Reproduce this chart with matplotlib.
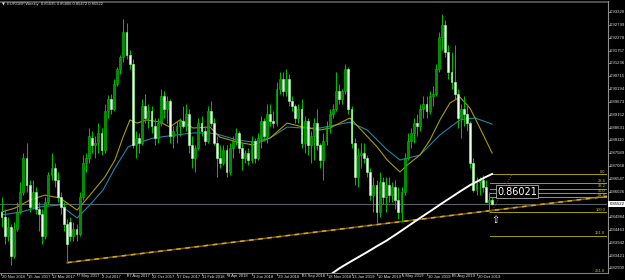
import numpy as np
import matplotlib
matplotlib.use("Agg")
import matplotlib.pyplot as plt
from matplotlib.lines import Line2D

# EURGBP weekly candles, one row per week starting 20 Nov 2016
opens = [0.8520, 0.8500, 0.8420, 0.8460, 0.8340, 0.8450, 0.8520, 0.8600, 0.8740, 0.8630,
         0.8540, 0.8600, 0.8530, 0.8510, 0.8420, 0.8560, 0.8670, 0.8700, 0.8650, 0.8580,
         0.8540, 0.8470, 0.8480, 0.8420, 0.8450, 0.8430, 0.8580, 0.8720, 0.8740, 0.8820,
         0.8790, 0.8800, 0.8840, 0.8770, 0.8930, 0.8980, 0.8940, 0.9040, 0.9100, 0.9150,
         0.9250, 0.9160, 0.9120, 0.8790, 0.8820, 0.8800, 0.8950, 0.8900, 0.8930, 0.8870,
         0.8820, 0.8880, 0.8990, 0.8940, 0.8970, 0.8830, 0.8850, 0.8870, 0.8890, 0.8870,
         0.8920, 0.8790, 0.8740, 0.8780, 0.8880, 0.8850, 0.8810, 0.8930, 0.8880, 0.8800,
         0.8740, 0.8720, 0.8770, 0.8680, 0.8780, 0.8810, 0.8840, 0.8780, 0.8740, 0.8760,
         0.8730, 0.8810, 0.8740, 0.8820, 0.8890, 0.8830, 0.8920, 0.8890, 0.8880, 0.9020,
         0.9060, 0.9010, 0.9060, 0.8970, 0.8950, 0.8900, 0.8940, 0.8800, 0.8890, 0.8790,
         0.8830, 0.8880, 0.8790, 0.8730, 0.8810, 0.8870, 0.8920, 0.8940, 0.9010, 0.8980,
         0.9010, 0.9100, 0.8940, 0.8800, 0.8660, 0.8750, 0.8760, 0.8740, 0.8680, 0.8590,
         0.8630, 0.8520, 0.8640, 0.8580, 0.8630, 0.8590, 0.8620, 0.8570, 0.8520, 0.8600,
         0.8740, 0.8810, 0.8840, 0.8880, 0.8870, 0.8940, 0.8960, 0.8930, 0.8990, 0.9000,
         0.9100, 0.9230, 0.9280, 0.9170, 0.9090, 0.9050, 0.9000, 0.8900, 0.8940, 0.8920,
         0.8880, 0.8720, 0.8610, 0.8640, 0.8650, 0.8620, 0.8560, 0.85695]
highs = [0.8580, 0.8530, 0.8500, 0.8470, 0.8480, 0.8560, 0.8640, 0.8760, 0.8800, 0.8650,
         0.8650, 0.8620, 0.8560, 0.8530, 0.8580, 0.8680, 0.8760, 0.8720, 0.8680, 0.8600,
         0.8560, 0.8490, 0.8500, 0.8480, 0.8470, 0.8600, 0.8750, 0.8760, 0.8860, 0.8850,
         0.8830, 0.8880, 0.8860, 0.8960, 0.8995, 0.9000, 0.9060, 0.9110, 0.9160, 0.9306,
         0.9290, 0.9180, 0.9140, 0.8850, 0.8840, 0.8980, 0.9000, 0.8960, 0.8950, 0.8900,
         0.8900, 0.9020, 0.9010, 0.8990, 0.8980, 0.8870, 0.8890, 0.8900, 0.8950, 0.8960,
         0.8940, 0.8830, 0.8790, 0.8900, 0.8910, 0.8870, 0.8950, 0.8970, 0.8900, 0.8830,
         0.8790, 0.8790, 0.8790, 0.8800, 0.8830, 0.8860, 0.8850, 0.8800, 0.8770, 0.8780,
         0.8830, 0.8820, 0.8840, 0.8910, 0.8900, 0.8960, 0.8960, 0.8930, 0.9050, 0.9090,
         0.9090, 0.9100, 0.9080, 0.8990, 0.8960, 0.8960, 0.8980, 0.8910, 0.8900, 0.8850,
         0.8900, 0.8940, 0.8800, 0.8840, 0.8890, 0.8940, 0.8960, 0.9090, 0.9040, 0.9020,
         0.9120, 0.9110, 0.8950, 0.8820, 0.8780, 0.8800, 0.8800, 0.8750, 0.8700, 0.8660,
         0.8650, 0.8680, 0.8660, 0.8660, 0.8660, 0.8640, 0.8650, 0.8620, 0.8620, 0.8760,
         0.8840, 0.8860, 0.8900, 0.8920, 0.8960, 0.8990, 0.8990, 0.9010, 0.9030, 0.9120,
         0.9250, 0.9325, 0.9300, 0.9200, 0.9170, 0.9200, 0.9020, 0.8960, 0.8990, 0.8960,
         0.8890, 0.8740, 0.8660, 0.8660, 0.8670, 0.8650, 0.8600, 0.85806]
lows = [0.8460, 0.8390, 0.8400, 0.8305, 0.8330, 0.8440, 0.8510, 0.8590, 0.8600, 0.8520,
        0.8530, 0.8510, 0.8440, 0.8390, 0.8410, 0.8550, 0.8650, 0.8620, 0.8560, 0.8510,
        0.8440, 0.8313, 0.8400, 0.8400, 0.8400, 0.8420, 0.8570, 0.8680, 0.8720, 0.8760,
        0.8740, 0.8760, 0.8750, 0.8760, 0.8900, 0.8920, 0.8930, 0.9030, 0.9080, 0.9130,
        0.9140, 0.9100, 0.8780, 0.8740, 0.8760, 0.8790, 0.8880, 0.8860, 0.8840, 0.8790,
        0.8800, 0.8870, 0.8900, 0.8880, 0.8800, 0.8780, 0.8800, 0.8830, 0.8860, 0.8850,
        0.8760, 0.8700, 0.8680, 0.8770, 0.8830, 0.8790, 0.8800, 0.8870, 0.8790, 0.8660,
        0.8700, 0.8710, 0.8660, 0.8670, 0.8740, 0.8790, 0.8760, 0.8690, 0.8720, 0.8710,
        0.8720, 0.8720, 0.8730, 0.8780, 0.8810, 0.8800, 0.8870, 0.8860, 0.8870, 0.9000,
        0.8990, 0.8990, 0.8950, 0.8930, 0.8880, 0.8880, 0.8780, 0.8760, 0.8750, 0.8720,
        0.8730, 0.8770, 0.8700, 0.8650, 0.8790, 0.8840, 0.8900, 0.8930, 0.8960, 0.8960,
        0.9000, 0.8920, 0.8780, 0.8630, 0.8620, 0.8700, 0.8720, 0.8660, 0.8570, 0.8520,
        0.8474, 0.8500, 0.8550, 0.8520, 0.8560, 0.8560, 0.8530, 0.8490, 0.8480, 0.8590,
        0.8730, 0.8780, 0.8800, 0.8830, 0.8850, 0.8900, 0.8900, 0.8920, 0.8950, 0.8990,
        0.9090, 0.9180, 0.9150, 0.9060, 0.9020, 0.8980, 0.8860, 0.8820, 0.8870, 0.8850,
        0.8700, 0.8600, 0.8590, 0.8590, 0.8600, 0.8560, 0.8519, 0.85472]
closes = [0.8500, 0.8420, 0.8460, 0.8340, 0.8450, 0.8520, 0.8600, 0.8740, 0.8630, 0.8540,
          0.8600, 0.8530, 0.8510, 0.8420, 0.8560, 0.8670, 0.8700, 0.8650, 0.8580, 0.8540,
          0.8470, 0.8390, 0.8420, 0.8450, 0.8430, 0.8580, 0.8720, 0.8740, 0.8830, 0.8790,
          0.8800, 0.8840, 0.8770, 0.8930, 0.8980, 0.8940, 0.9040, 0.9100, 0.9150, 0.9250,
          0.9160, 0.9120, 0.8790, 0.8820, 0.8800, 0.8950, 0.8900, 0.8930, 0.8870, 0.8820,
          0.8880, 0.8990, 0.8940, 0.8970, 0.8830, 0.8850, 0.8870, 0.8890, 0.8870, 0.8920,
          0.8790, 0.8740, 0.8780, 0.8880, 0.8850, 0.8810, 0.8930, 0.8880, 0.8800, 0.8740,
          0.8720, 0.8770, 0.8680, 0.8780, 0.8810, 0.8840, 0.8780, 0.8740, 0.8760, 0.8730,
          0.8810, 0.8740, 0.8820, 0.8890, 0.8830, 0.8920, 0.8890, 0.8880, 0.9020, 0.9060,
          0.9010, 0.9060, 0.8970, 0.8950, 0.8900, 0.8940, 0.8800, 0.8890, 0.8790, 0.8830,
          0.8880, 0.8790, 0.8730, 0.8810, 0.8870, 0.8920, 0.8940, 0.9010, 0.8980, 0.9010,
          0.9100, 0.8940, 0.8800, 0.8660, 0.8750, 0.8760, 0.8740, 0.8680, 0.8590, 0.8630,
          0.8520, 0.8640, 0.8580, 0.8630, 0.8590, 0.8620, 0.8570, 0.8520, 0.8600, 0.8740,
          0.8810, 0.8840, 0.8880, 0.8870, 0.8940, 0.8960, 0.8930, 0.8990, 0.9000, 0.9100,
          0.9230, 0.9280, 0.9170, 0.9090, 0.9050, 0.9000, 0.8900, 0.8940, 0.8920, 0.8880,
          0.8720, 0.8610, 0.8640, 0.8650, 0.8620, 0.8560, 0.85695, 0.85522]

date_labels = ["20 Nov 2016", "15 Jan 2017", "12 Mar 2017", "7 May 2017", "2 Jul 2017",
               "27 Aug 2017", "22 Oct 2017", "17 Dec 2017", "11 Feb 2018", "8 Apr 2018",
               "3 Jun 2018", "29 Jul 2018", "23 Sep 2018", "18 Nov 2018", "13 Jan 2019",
               "10 Mar 2019", "5 May 2019", "30 Jun 2019", "25 Aug 2019", "20 Oct 2019"]

# moving averages (bar index, price)
ma_fast_idx = [0, 4.3, 9.1, 13.9, 18.7, 24.2, 28.3, 33.1, 36.3, 38.9, 41.1, 43.4, 46.6, 50.7,
               53.9, 57.1, 61.3, 66.7, 69.9, 75.4, 80.5, 85.9, 91.4, 96.5, 101.9, 105.1,
               111.5, 115.7, 120.2, 123.4, 127.5, 129.8, 133.9, 137.1, 140.3, 143.5, 146.7,
               149.9, 153.1, 157]
ma_fast_val = [0.8519, 0.8535, 0.8568, 0.8588, 0.8576, 0.8527, 0.8588, 0.8662, 0.8731, 0.8824,
               0.8894, 0.8881, 0.8894, 0.8885, 0.8865, 0.8894, 0.8861, 0.8865, 0.8824, 0.8804,
               0.8792, 0.8820, 0.8881, 0.8865, 0.8853, 0.8861, 0.8902, 0.8845, 0.8784, 0.8731,
               0.8682, 0.8710, 0.8751, 0.8812, 0.8894, 0.8963, 0.8987, 0.8942, 0.8861, 0.8759]
ma_slow_idx = [0, 6, 12.3, 18.7, 24.2, 28.3, 32.5, 36.3, 40.5, 43.4, 48.5, 50.7, 56.2, 61.3,
               66.7, 69.9, 75.4, 80.5, 85.9, 91.4, 96.5, 101.9, 111.5, 117, 123.4, 127.5,
               133.9, 140.3, 146.7, 151.5, 157]
ma_slow_val = [0.8507, 0.8519, 0.8540, 0.8548, 0.8495, 0.8548, 0.8609, 0.8698, 0.8784, 0.8800,
               0.8820, 0.8824, 0.8833, 0.8841, 0.8841, 0.8833, 0.8812, 0.8804, 0.8820, 0.8865,
               0.8861, 0.8861, 0.8885, 0.8853, 0.8772, 0.8731, 0.8751, 0.8833, 0.8894, 0.8902,
               0.8877]

# slow white curve (only the right part of the chart)
white_idx = [105, 108, 111, 114, 117, 120, 123, 126, 129, 132, 135, 138, 141, 144, 147, 150, 153, 155, 157]
white_val = [0.8262, 0.8289, 0.8312, 0.8334, 0.8356, 0.8379, 0.8401, 0.8426, 0.8452, 0.8478,
             0.8504, 0.8529, 0.8555, 0.8580, 0.8605, 0.8629, 0.8649, 0.8662, 0.8674]

# trendline through two lows
trend_idx = [21, 124]
trend_val = [0.8313, 0.8474]

# fibonacci levels
fib_high = 0.8674
fib_low = 0.8519
fib_levels = [0.0, 23.6, 38.2, 50.0, 61.8, 100.0, 161.8, 261.8]

title_text = "EURGBP,Weekly  0.85695 0.85806 0.85472 0.85522"
last_price = 0.85522
marker_price = 0.86021

SMALL = dict(family=['Liberation Sans', 'DejaVu Sans'])
TXT = '#dcdcdc'

W, H = 625, 280
fig = plt.figure(figsize=(W / 100, H / 100), dpi=100, facecolor='black')
ax = fig.add_axes([0, 7 / H, 607 / W, 271 / H])
ax.set_facecolor('black')
for s in ax.spines.values():
    s.set_visible(False)
ax.set_xticks([])
ax.set_yticks([])
ax.set_xlim(-0.48, 193.76)
ax.set_ylim(0.82709, 0.93739)

def px(x, y):
    return x / W, 1 - y / H

n = len(closes)
idx = np.arange(n)
o = np.array(opens); h = np.array(highs); l = np.array(lows); c = np.array(closes)

# moving averages
ax.plot(ma_slow_idx, ma_slow_val, color='#1f86a8', lw=0.8, zorder=2)
ax.plot(ma_fast_idx, ma_fast_val, color='#a89c00', lw=0.8, zorder=2)

# current price line
ax.axhline(last_price, color='#5a6068', lw=0.8, zorder=1)

# trend line extended to the right edge
slope = (trend_val[1] - trend_val[0]) / (trend_idx[1] - trend_idx[0])
tx = [trend_idx[0], 193.76]
ty = [trend_val[0], trend_val[0] + slope * (193.76 - trend_idx[0])]
ax.plot(tx, ty, color='#7a5c10', lw=1.1, zorder=3)
ax.plot(tx, ty, color='#d8a818', lw=1.1, dashes=(3, 3), zorder=3)

# candles
up = c >= o
ax.vlines(idx, l, h, color='#00c000', lw=0.7, zorder=4)
body_lo = np.minimum(o, c)
body_h = np.maximum(np.abs(c - o), 0.00015)
ax.bar(idx[up], body_h[up], bottom=body_lo[up], width=0.62, color='#008c00',
       edgecolor='#00c800', linewidth=0.4, zorder=5)
ax.bar(idx[~up], body_h[~up], bottom=body_lo[~up], width=0.62, color='#eaffea',
       edgecolor='#a0ffa0', linewidth=0.4, zorder=5)

# white curve
ax.plot(white_idx, white_val, color='white', lw=1.4, zorder=6)

# fibonacci grid
fib_x0 = 156.3
for lev in fib_levels:
    p = fib_high - (fib_high - fib_low) * lev / 100
    ax.plot([fib_x0, 193.76], [p, p], color='#a8a000', lw=0.7, zorder=3)
    ax.text(193.2, p + 0.00015, f"{lev:.1f}", color='#c8c400', fontsize=2.9,
            ha='right', va='bottom', zorder=7, **SMALL)
ax.plot([156.8, 163.4], [fib_low, fib_high], color='#d02020', lw=0.7, ls=(0, (1, 1.5)), zorder=6)

# labels on the chart
ax.text(165.0, marker_price, f"{marker_price:.5f}", color='white', fontsize=7,
        ha='center', va='center', zorder=8,
        bbox=dict(boxstyle='square,pad=0.12', fc='black', ec='#b0b0b0', lw=0.6))
ax.text(157.9, 0.8487, "\u21e7", color='white', fontsize=7, ha='center', va='center', zorder=8)

# frame lines
fig.add_artist(Line2D([0, 607 / W], [1 - 1.5 / H] * 2, color='#505050', lw=1.4))
fig.add_artist(Line2D([0, 607 / W], [1 - 272.5 / H] * 2, color='#808080', lw=0.8))
fig.add_artist(Line2D([607.5 / W] * 2, [1 - 1 / H, 1 - 273 / H], color='#909090', lw=0.8))

# price scale on the right
y0, y1 = 0.93739, 0.82709
def price_to_px(p):
    return 2 + (y0 - p) / (y0 - y1) * 271

tick_prices = 0.93320 - 0.00521 * np.arange(21)
for p in tick_prices:
    yp = price_to_px(p)
    if abs(p - last_price) < 0.002:
        continue
    fig.add_artist(Line2D([607.5 / W, 609.5 / W], [1 - yp / H] * 2, color='#909090', lw=0.6))
    fig.text(*px(610, yp), f"{p:.5f}", color=TXT, fontsize=3.1, va='center', ha='left', **SMALL)
yl = price_to_px(last_price)
fig.text(*px(609.5, yl), f"{last_price:.5f}", color='black', fontsize=3.1, va='center', ha='left',
         bbox=dict(boxstyle='square,pad=0.3', fc='white', ec='white', lw=0), **SMALL)

# time scale
for k, lab in enumerate(date_labels):
    i = k * 8
    xp = 1.5 + 3.125 * i
    fig.add_artist(Line2D([xp / W] * 2, [1 - 272.5 / H, 1 - 275 / H], color='#909090', lw=0.6))
    fig.text(*px(xp + 1, 276.5), lab, color=TXT, fontsize=3.0, va='center', ha='left', **SMALL)

# title
fig.text(*px(1.5, 4.5), "\u25bc", color=TXT, fontsize=2.8, va='center', ha='left')
fig.text(*px(7, 4.5), title_text, color=TXT, fontsize=3.0, va='center', ha='left', **SMALL)

fig.savefig('out.png', dpi=100, facecolor='black')
